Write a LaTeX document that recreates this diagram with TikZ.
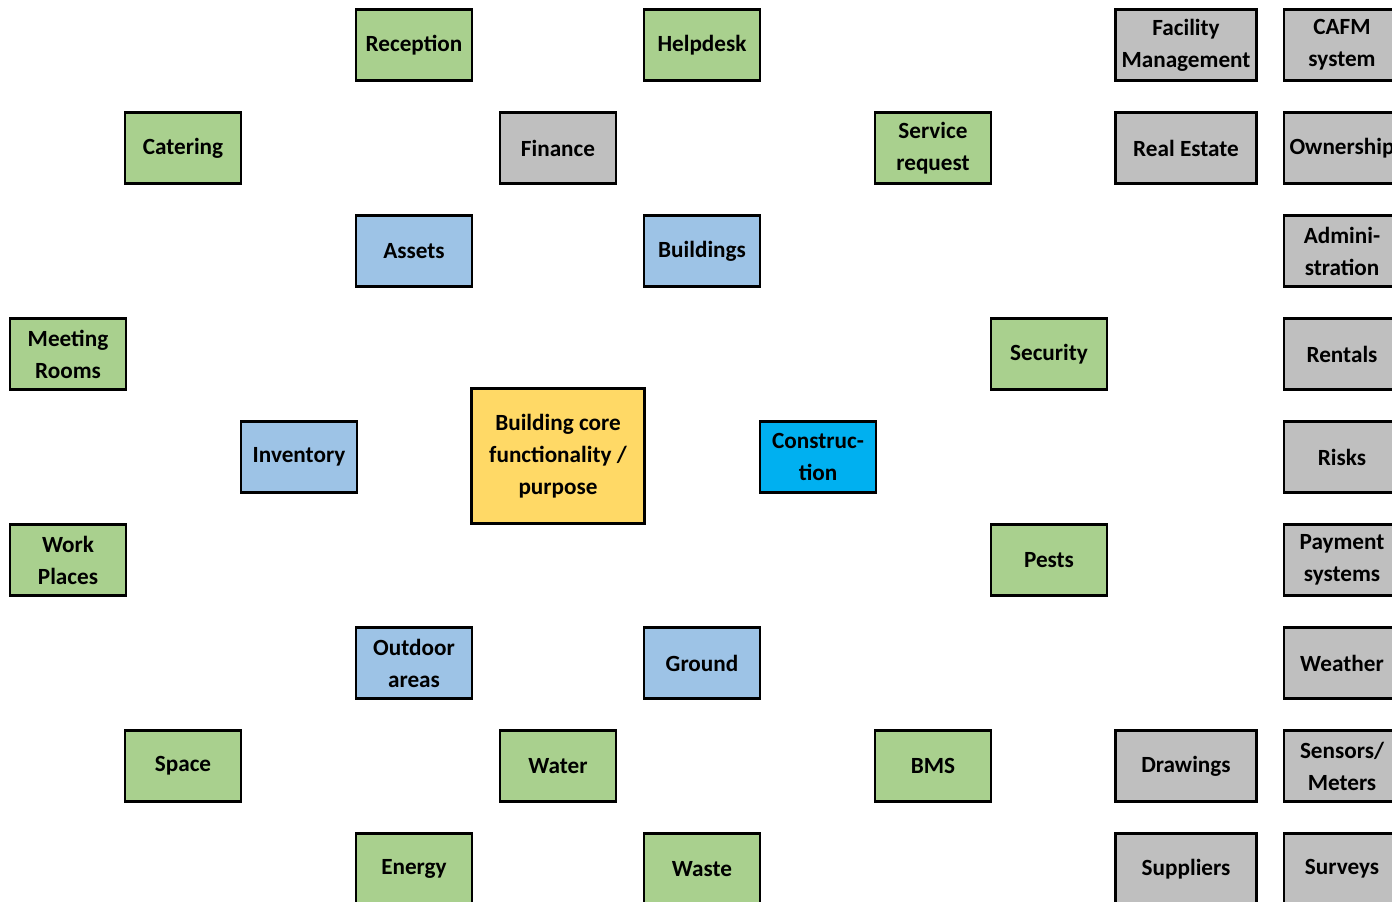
\documentclass[tikz,border=0pt]{standalone}
\usepackage{fontspec}
\setmainfont{Carlito}
\definecolor{usegreen}{HTML}{A9D08E}
\definecolor{infogrey}{HTML}{BFBFBF}
\definecolor{assetblue}{HTML}{9DC3E6}
\definecolor{coreyellow}{HTML}{FFD966}
\definecolor{buildcyan}{HTML}{00B0F0}
\begin{document}
\begin{tikzpicture}[x=1pt,y=-1pt,
    box/.style={draw=black,line width=2.4pt,minimum width=116pt,minimum height=71pt,
      inner sep=1pt,align=center,font=\fontsize{23.2}{32}\selectfont\bfseries},
    usebox/.style={box,fill=usegreen},
    infobox/.style={box,fill=infogrey},
    widebox/.style={infobox,minimum width=141pt},
    assetbox/.style={box,fill=assetblue},
    corebox/.style={box,fill=coreyellow,minimum width=173pt,minimum height=135pt}]

    \useasboundingbox (0,0) rectangle (1392,902);
    \clip (0,0) rectangle (1392,902);

    % centre
    \node[corebox] (core) at (558,456) {Building core\\functionality /\\purpose};
    \node[box,fill=buildcyan] (construction) at (818,457) {Construc-\\tion};

    % assets
    \node[assetbox] (assets) at (414,251) {Assets};
    \node[assetbox] (buildings) at (702,251) {Buildings};
    \node[assetbox] (inventory) at (299,457) {Inventory};
    \node[assetbox] (outdoor) at (414,663) {Outdoor\\areas};
    \node[assetbox] (ground) at (702,663) {Ground};

    % use
    \node[usebox] (reception) at (414,45) {Reception};
    \node[usebox] (helpdesk) at (702,45) {Helpdesk};
    \node[usebox] (catering) at (183,148) {Catering};
    \node[usebox] (service) at (933,148) {Service\\request};
    \node[usebox] (meeting) at (68,354) {Meeting\\Rooms};
    \node[usebox] (security) at (1049,354) {Security};
    \node[usebox] (workplaces) at (68,560) {Work\\Places};
    \node[usebox] (pests) at (1049,560) {Pests};
    \node[usebox] (space) at (183,766) {Space};
    \node[usebox] (water) at (558,766) {Water};
    \node[usebox] (bms) at (933,766) {BMS};
    \node[usebox] (energy) at (414,869) {Energy};
    \node[usebox] (waste) at (702,869) {Waste};

    % information
    \node[infobox] (finance) at (558,148) {Finance};
    \node[widebox] (facility) at (1186,45) {Facility\\Management};
    \node[widebox] (realestate) at (1186,148) {Real Estate};
    \node[widebox] (drawings) at (1186,766) {Drawings};
    \node[widebox] (suppliers) at (1186,869) {Suppliers};
    \node[infobox] (cafm) at (1342,45) {CAFM\\system};
    \node[infobox] (ownership) at (1342,148) {Ownership};
    \node[infobox] (admin) at (1342,251) {Admini-\\stration};
    \node[infobox] (rentals) at (1342,354) {Rentals};
    \node[infobox] (risks) at (1342,457) {Risks};
    \node[infobox] (payment) at (1342,560) {Payment\\systems};
    \node[infobox] (weather) at (1342,663) {Weather};
    \node[infobox] (sensors) at (1342,766) {Sensors/\\Meters};
    \node[infobox] (surveys) at (1342,869) {Surveys};

\end{tikzpicture}
\end{document}
